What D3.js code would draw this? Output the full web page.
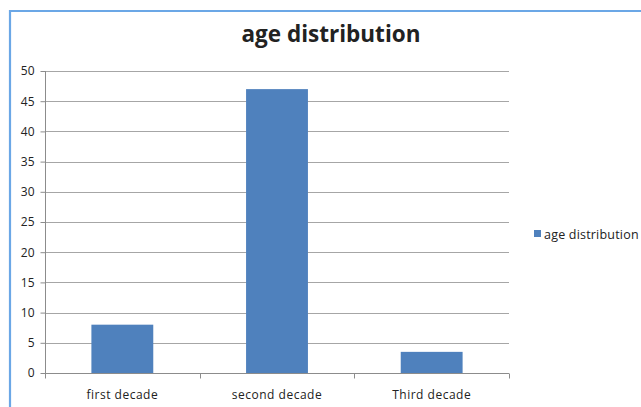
<!DOCTYPE html>
<html>
<head>
<meta charset="utf-8">
<script src="https://cdn.jsdelivr.net/npm/d3@7"></script>
<style>
  html, body { margin: 0; padding: 0; background: #fff; }
  svg { display: block; }
  text { font-family: "Open Sans", "Noto Sans", sans-serif; fill: #222; }
</style>
</head>
<body>
<svg id="chart" width="641" height="407"></svg>
<script>
const categories = ["first decade", "second decade", "Third decade"];
const values = [8, 47, 3.5];
const seriesName = "age distribution";
const yTicks = [0, 5, 10, 15, 20, 25, 30, 35, 40, 45, 50];

const svg = d3.select("#chart");
const W = 641, H = 407;
const plot = { left: 45, right: 509, top: 71, bottom: 373 };

// chart frame (left and top edges visible)
svg.append("path")
  .attr("d", `M10,${H} L10,11 L${W},11`)
  .attr("fill", "none")
  .attr("stroke", "#6ba7e6")
  .attr("stroke-width", 2.2);

const x = d3.scaleBand()
  .domain(categories)
  .range([plot.left, plot.right])
  .paddingInner(0.6)
  .paddingOuter(0.3);

const y = d3.scaleLinear()
  .domain([0, 50])
  .range([plot.bottom, plot.top]);

// horizontal gridlines
svg.append("g")
  .selectAll("line")
  .data(yTicks.filter(d => d > 0))
  .join("line")
  .attr("x1", plot.left)
  .attr("x2", plot.right)
  .attr("y1", d => Math.round(y(d)) + 0.5)
  .attr("y2", d => Math.round(y(d)) + 0.5)
  .attr("stroke", "#a6a6a6")
  .attr("stroke-width", 1);

// y axis
const yAxis = svg.append("g")
  .attr("transform", `translate(${plot.left + 0.5},0)`)
  .call(d3.axisLeft(y).tickValues(yTicks).tickSize(5).tickPadding(6));
yAxis.selectAll("path, line").attr("stroke", "#8c8c8c");
yAxis.select(".domain").attr("d", `M0,${plot.top}V${plot.bottom}`);
yAxis.selectAll("text")
  .style("font-family", '"Open Sans", "Noto Sans", sans-serif')
  .style("font-size", "12px")
  .attr("fill", "#222");

// bars
svg.append("g")
  .selectAll("rect")
  .data(values)
  .join("rect")
  .attr("x", (d, i) => x(categories[i]))
  .attr("y", d => y(d))
  .attr("width", x.bandwidth())
  .attr("height", d => y(0) - y(d))
  .attr("fill", "#4f81bd");

// x axis with boundary ticks between categories
const xBase = Math.round(y(0)) + 0.5;
const gx = svg.append("g");
gx.append("line")
  .attr("x1", plot.left).attr("x2", plot.right)
  .attr("y1", xBase).attr("y2", xBase)
  .attr("stroke", "#8c8c8c");
gx.selectAll("line.tick")
  .data(d3.range(categories.length + 1))
  .join("line")
  .attr("class", "tick")
  .attr("x1", i => Math.round(plot.left + i * (plot.right - plot.left) / categories.length) + 0.5)
  .attr("x2", i => Math.round(plot.left + i * (plot.right - plot.left) / categories.length) + 0.5)
  .attr("y1", xBase).attr("y2", xBase + 5)
  .attr("stroke", "#8c8c8c");
gx.selectAll("text")
  .data(categories)
  .join("text")
  .attr("x", d => x(d) + x.bandwidth() / 2)
  .attr("y", 399)
  .attr("text-anchor", "middle")
  .style("font-size", "12px")
  .style("letter-spacing", "0.5px")
  .text(d => d);

// title
svg.append("text")
  .attr("x", 331)
  .attr("y", 42)
  .attr("text-anchor", "middle")
  .style("font-size", "22.5px")
  .style("font-weight", "bold")
  .attr("fill", "#000")
  .text(seriesName);

// legend
const lg = svg.append("g").attr("transform", "translate(534,230)");
lg.append("rect").attr("width", 7).attr("height", 7).attr("fill", "#4f81bd");
lg.append("text").attr("x", 10).attr("y", 8.5)
  .style("font-size", "12.5px")
  .style("letter-spacing", "0.2px")
  .text(seriesName);
</script>
</body>
</html>
